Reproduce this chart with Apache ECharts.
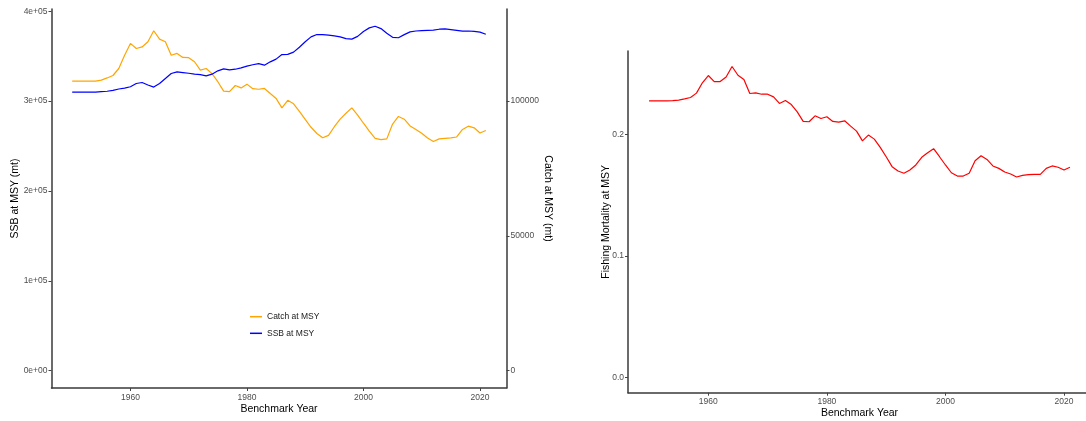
<!DOCTYPE html>
<html><head><meta charset="utf-8">
<script src="https://cdn.jsdelivr.net/npm/echarts@6/dist/echarts.min.js"></script>
<style>html,body{margin:0;padding:0;background:#fff}#c{width:1086px;height:421px}</style>
</head><body><div id="c"></div>
<script>
const years = [1950,1951,1952,1953,1954,1955,1956,1957,1958,1959,
  1960,1961,1962,1963,1964,1965,1966,1967,1968,1969,
  1970,1971,1972,1973,1974,1975,1976,1977,1978,1979,
  1980,1981,1982,1983,1984,1985,1986,1987,1988,1989,
  1990,1991,1992,1993,1994,1995,1996,1997,1998,1999,
  2000,2001,2002,2003,2004,2005,2006,2007,2008,2009,
  2010,2011,2012,2013,2014,2015,2016,2017,2018,2019,
  2020,2021];
const ssbMSY = [310000,310000,310000,310000,310000,310500,311000,312000,313500,314500,
  316000,319600,320700,318000,315600,319600,325200,330700,332600,331800,
  331000,330000,329500,328100,330000,333700,335900,334800,335500,337000,
  339000,340500,341800,340000,343700,346700,351800,352000,354500,360000,
  366000,371500,374100,374000,373500,372500,371500,369500,369000,372000,
  377500,381500,383300,380700,375500,371000,370500,374000,377000,378000,
  378500,378800,379000,380000,380400,379600,378800,377800,378000,377500,
  376700,374400];
const catchMSY = [107400,107400,107400,107400,107400,107800,108600,109500,112100,117000,
  121400,119500,120100,122000,126100,123000,122000,117000,117700,116200,
  116100,114600,111500,112100,110200,107200,103700,103500,105800,104900,
  106300,104600,104400,104700,102800,101000,97500,100300,99000,96200,
  93200,90300,88000,86400,87300,90500,93300,95500,97500,94800,
  91800,88900,86200,85700,86000,91500,94300,93300,90800,89500,
  88100,86300,85000,86000,86200,86400,86700,89500,90700,90100,
  88200,89100];
const fMSY = [0.2276,0.2276,0.2276,0.2276,0.2278,0.2283,0.2292,0.2304,0.2340,0.2425,
  0.2485,0.2435,0.2435,0.2473,0.2559,0.2487,0.2452,0.2337,0.2342,0.2331,
  0.2331,0.2309,0.2255,0.2279,0.2246,0.2186,0.2107,0.2104,0.2153,0.2131,
  0.2145,0.2107,0.2101,0.2112,0.2068,0.2027,0.1947,0.1994,0.1961,0.1893,
  0.1816,0.1734,0.1698,0.1680,0.1707,0.1748,0.1811,0.1849,0.1882,0.1816,
  0.1748,0.1684,0.1657,0.1657,0.1680,0.1783,0.1824,0.1794,0.1740,0.1720,
  0.1690,0.1674,0.1649,0.1663,0.1668,0.1670,0.1670,0.1720,0.1740,0.1729,
  0.1707,0.1729];
const xTicks = [1960,1980,2000,2020];
const ssbTicks = [0,100000,200000,300000,400000];
const ssbTickLabels = ['0e+00','1e+05','2e+05','3e+05','4e+05'];
const catchTicks = [0,50000,100000];
const catchTickLabels = ['0','50000','100000'];
const fTicks = [0,0.1,0.2];
const fTickLabels = ['0.0','0.1','0.2'];

const FONT = 'Liberation Sans, Arial, Helvetica, sans-serif';
const pair = (arr) => years.map((y,i)=>[y, arr[i]]);
const lbl = (ticks, labels) => (v) => { const i = ticks.findIndex(t => Math.abs(t - v) < 1e-9); return i >= 0 ? labels[i] : ''; };

function xAx(gi, gap, lm){
  return {type:'value', gridIndex:gi, min:1946.45, max:2024.55,
    axisLine:{show:true, onZero:false, lineStyle:{color:'#3a3a3a', width:1.5}},
    axisTick:{show:true, length:3, customValues:xTicks, lineStyle:{color:'#444', width:1}},
    axisLabel:{customValues:xTicks, fontSize:8.5, color:'#4d4d4d', margin:lm, fontFamily:FONT, formatter:(v)=>String(v)},
    splitLine:{show:false},
    name:'Benchmark Year', nameLocation:'middle', nameGap:gap, nameMoveOverlap:false,
    nameTextStyle:{fontSize:10.5, color:'#000', fontFamily:FONT}};
}
function yAx(gi, pos, min, max, ticks, labels, name, gap, rot){
  return {type:'value', gridIndex:gi, position:pos, min:min, max:max,
    axisLine:{show:true, onZero:false, lineStyle:{color:'#3a3a3a', width:1.5}},
    axisTick:{show:true, length:3, customValues:ticks, lineStyle:{color:'#444', width:1}},
    axisLabel:{customValues:ticks, fontSize:8.5, color:'#4d4d4d', margin:4, fontFamily:FONT, formatter:lbl(ticks, labels)},
    splitLine:{show:false},
    name:name, nameLocation:'middle', nameGap:gap, nameRotate:rot, nameMoveOverlap:false,
    nameTextStyle:{fontSize:10.5, color:'#000', fontFamily:FONT}};
}

const chart = echarts.init(document.getElementById('c'), null, {renderer:'canvas'});
chart.setOption({
  animation:false,
  backgroundColor:'#fff',
  grid:[
    {left:51.5, top:9, width:455, height:379, outerBoundsMode:'none', containLabel:false},
    {left:628, top:51, width:463, height:341.7, outerBoundsMode:'none', containLabel:false}
  ],
  xAxis:[xAx(0, 16, 5), xAx(1, 15, 4)],
  yAxis:[
    yAx(0, 'left', -19200, 402500, ssbTicks, ssbTickLabels, 'SSB at MSY (mt)', 31, 90),
    yAx(0, 'right', -6400, 134167, catchTicks, catchTickLabels, 'Catch at MSY (mt)', 36, -90),
    yAx(1, 'left', -0.0128, 0.2687, fTicks, fTickLabels, 'Fishing Mortality at MSY', 16, 90)
  ],
  legend:{left:245, top:306.7, orient:'vertical', itemWidth:12, itemHeight:1.5, itemGap:6.6, icon:'rect',
    textStyle:{fontSize:8.5, color:'#1a1a1a', fontFamily:FONT, lineHeight:10},
    data:['Catch at MSY','SSB at MSY']},
  series:[
    {name:'Catch at MSY', type:'line', xAxisIndex:0, yAxisIndex:1, data:pair(catchMSY), symbol:'none',
      lineStyle:{color:'#FFA500', width:1.2}, itemStyle:{color:'#FFA500'}},
    {name:'SSB at MSY', type:'line', xAxisIndex:0, yAxisIndex:0, data:pair(ssbMSY), symbol:'none',
      lineStyle:{color:'#0000FF', width:1.2}, itemStyle:{color:'#0000FF'}},
    {name:'F at MSY', type:'line', xAxisIndex:1, yAxisIndex:2, data:pair(fMSY), symbol:'none',
      lineStyle:{color:'#FF0000', width:1.2}, itemStyle:{color:'#FF0000'}}
  ]
});
</script>
</body></html>
